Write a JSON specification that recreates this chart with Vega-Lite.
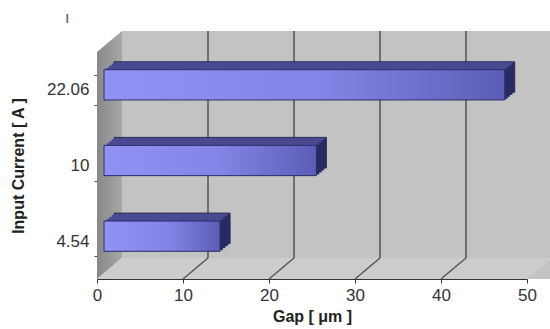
{
  "$schema": "https://vega.github.io/schema/vega-lite/v6.json",
  "width": 430,
  "height": 227,
  "autosize": {"type": "none"},
  "padding": {"left": 97, "top": 52, "right": 23, "bottom": 50},
  "background": "#ffffff",
  "config": {
    "view": {"stroke": null},
    "font": "Liberation Sans",
    "axis": {"labelFont": "Liberation Sans", "titleFont": "Liberation Sans"}
  },
  "title": {"text": "ı", "anchor": "start", "frame": "group", "dx": -32, "offset": 4, "fontSize": 16, "fontWeight": "normal", "color": "#555555"},
  "datasets": {
    "gap": [
      {"current": "22.06", "gap": 46.6},
      {"current": "10", "gap": 24.7},
      {"current": "4.54", "gap": 13.5}
    ],
    "grid": [{"tick": 10}, {"tick": 20}, {"tick": 30}, {"tick": 40}],
    "frame": [{"part": "frame"}]
  },
  "layer": [
    {
      "data": {"name": "frame"},
      "mark": {"type": "rect", "fill": "#c3c3c3", "xOffset": 25, "x2Offset": 25, "yOffset": -21, "y2Offset": -21},
      "encoding": {
        "x": {"datum": 0, "type": "quantitative", "scale": {"domain": [0, 50], "nice": false}},
        "x2": {"datum": 50}
      }
    },
    {
      "data": {"name": "grid"},
      "mark": {"type": "rule", "color": "#505050", "strokeWidth": 1.5, "xOffset": 25, "yOffset": -21, "y2Offset": -21},
      "encoding": {"x": {"field": "tick", "type": "quantitative"}}
    },
    {
      "data": {"name": "frame"},
      "mark": {
        "type": "point", "filled": true, "opacity": 1, "strokeWidth": 0, "size": 4,
        "shape": "M0,0 L0,-227 L25,-248 L25,-21 Z",
        "fill": {"gradient": "linear", "x1": 0, "y1": 0, "x2": 1, "y2": 0,
                 "stops": [{"offset": 0, "color": "#888888"}, {"offset": 1, "color": "#a8a8a8"}]}
      },
      "encoding": {
        "x": {"datum": 0, "type": "quantitative"},
        "y": {"value": "height"}
      }
    },
    {
      "data": {"name": "frame"},
      "mark": {
        "type": "point", "filled": true, "opacity": 1, "strokeWidth": 0, "size": 4,
        "shape": "M0,0 L25,-21 L455,-21 L430,0 Z",
        "fill": "#cccccc"
      },
      "encoding": {
        "x": {"datum": 0, "type": "quantitative"},
        "y": {"value": "height"}
      }
    },
    {
      "data": {"name": "grid"},
      "mark": {"type": "rule", "color": "#505050", "strokeWidth": 1.3, "x2Offset": 25, "y2Offset": -21},
      "encoding": {
        "x": {"field": "tick", "type": "quantitative"},
        "x2": {"field": "tick"},
        "y": {"value": "height"},
        "y2": {"value": "height"}
      }
    },
    {
      "data": {"name": "gap"},
      "mark": {"type": "bar", "fill": "#4a4a92", "stroke": "#20204a", "strokeWidth": 0.8, "xOffset": 17, "x2Offset": 17, "yOffset": -13, "y2Offset": -13},
      "encoding": {
        "x": {"field": "gap", "type": "quantitative"},
        "x2": {"datum": 0},
        "y": {"field": "current", "type": "nominal"}
      }
    },
    {
      "data": {"name": "gap"},
      "mark": {"type": "bar", "fill": "#4a4a92", "xOffset": 14.5, "x2Offset": 14.5, "yOffset": -11, "y2Offset": -11},
      "encoding": {
        "x": {"field": "gap", "type": "quantitative"},
        "x2": {"datum": 0},
        "y": {"field": "current", "type": "nominal"}
      }
    },
    {
      "data": {"name": "gap"},
      "mark": {"type": "bar", "fill": "#4a4a92", "xOffset": 12, "x2Offset": 12, "yOffset": -9, "y2Offset": -9},
      "encoding": {
        "x": {"field": "gap", "type": "quantitative"},
        "x2": {"datum": 0},
        "y": {"field": "current", "type": "nominal"}
      }
    },
    {
      "data": {"name": "gap"},
      "mark": {"type": "bar", "fill": "#4a4a92", "xOffset": 9.5, "x2Offset": 9.5, "yOffset": -7, "y2Offset": -7},
      "encoding": {
        "x": {"field": "gap", "type": "quantitative"},
        "x2": {"datum": 0},
        "y": {"field": "current", "type": "nominal"}
      }
    },
    {
      "data": {"name": "gap"},
      "mark": {"type": "tick", "orient": "vertical", "color": "#2a2a62", "opacity": 1, "thickness": 2.8, "size": 30, "xOffset": 15.6, "yOffset": -12},
      "encoding": {
        "x": {"field": "gap", "type": "quantitative"},
        "y": {"field": "current", "type": "nominal"}
      }
    },
    {
      "data": {"name": "gap"},
      "mark": {"type": "tick", "orient": "vertical", "color": "#2a2a62", "opacity": 1, "thickness": 2.8, "size": 30, "xOffset": 13.2, "yOffset": -10},
      "encoding": {
        "x": {"field": "gap", "type": "quantitative"},
        "y": {"field": "current", "type": "nominal"}
      }
    },
    {
      "data": {"name": "gap"},
      "mark": {"type": "tick", "orient": "vertical", "color": "#2a2a62", "opacity": 1, "thickness": 2.8, "size": 30, "xOffset": 10.8, "yOffset": -8},
      "encoding": {
        "x": {"field": "gap", "type": "quantitative"},
        "y": {"field": "current", "type": "nominal"}
      }
    },
    {
      "data": {"name": "gap"},
      "mark": {"type": "tick", "orient": "vertical", "color": "#2a2a62", "opacity": 1, "thickness": 2.8, "size": 30, "xOffset": 8.4, "yOffset": -6},
      "encoding": {
        "x": {"field": "gap", "type": "quantitative"},
        "y": {"field": "current", "type": "nominal"}
      }
    },
    {
      "data": {"name": "gap"},
      "mark": {
        "type": "bar", "stroke": "#2c2c6a", "strokeWidth": 1,
        "xOffset": 7, "x2Offset": 7, "yOffset": -5, "y2Offset": -5,
        "fill": {"gradient": "linear", "x1": 0, "y1": 0, "x2": 1, "y2": 0,
                 "stops": [{"offset": 0, "color": "#9292f4"}, {"offset": 0.55, "color": "#8484e6"}, {"offset": 1, "color": "#5c5cb8"}]}
      },
      "encoding": {
        "x": {
          "field": "gap", "type": "quantitative",
          "scale": {"domain": [0, 50], "nice": false},
          "axis": {
            "title": "Gap [ μm ]", "values": [0, 10, 20, 30, 40, 50], "grid": false,
            "domainColor": "#333333", "tickColor": "#333333", "tickSize": 4,
            "labelFontSize": 17, "labelColor": "#333333", "labelPadding": 4, "labelFlush": false,
            "titleFontSize": 16, "titleFontWeight": "bold", "titleColor": "#222222", "titlePadding": 5
          }
        },
        "x2": {"datum": 0},
        "y": {
          "field": "current", "type": "nominal",
          "scale": {"domain": ["22.06", "10", "4.54"], "paddingInner": 0.6, "paddingOuter": 0.3},
          "axis": {
            "title": "Input Current [ A ]", "tickBand": "extent", "grid": false,
            "domainColor": "#444444", "tickColor": "#444444", "tickSize": 3,
            "labelFontSize": 17, "labelColor": "#333333", "labelPadding": 5,
            "titleFontSize": 16, "titleFontWeight": "bold", "titleColor": "#222222", "titlePadding": 20
          }
        }
      }
    }
  ]
}
